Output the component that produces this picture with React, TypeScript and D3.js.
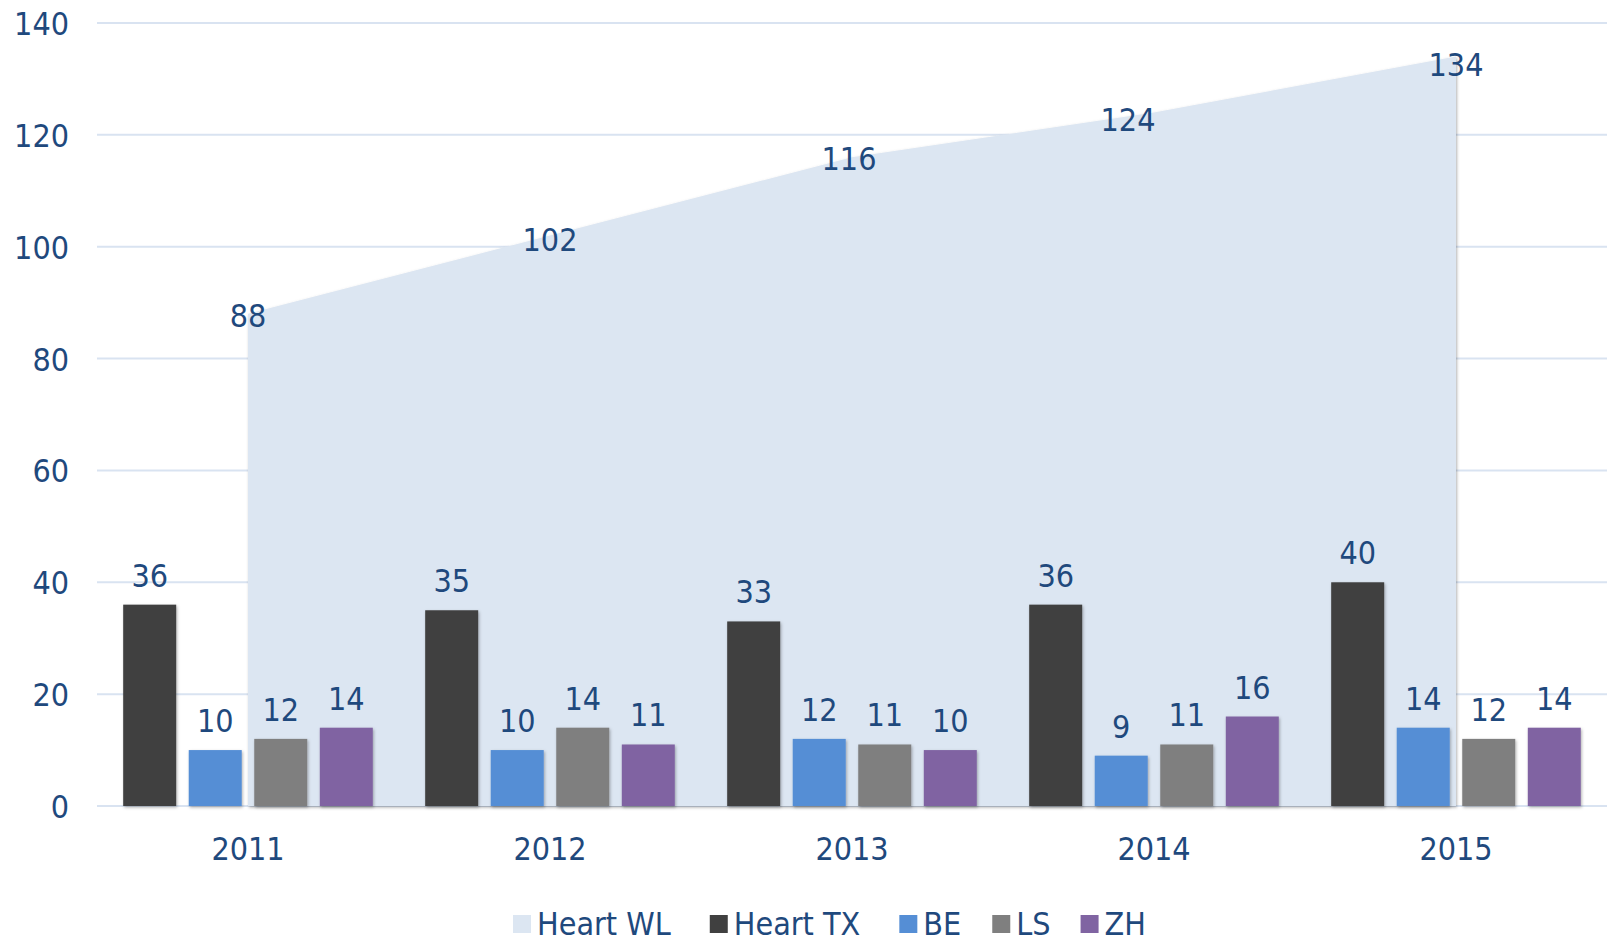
import React, { useEffect, useRef } from "react";
import * as d3 from "d3";

const years = ["2011", "2012", "2013", "2014", "2015"];
const heartWL = [88, 102, 116, 124, 134];
const heartTX = [36, 35, 33, 36, 40];
const BE = [10, 10, 12, 9, 14];
const LS = [12, 14, 11, 11, 12];
const ZH = [14, 11, 10, 16, 14];
const yTicks = [0, 20, 40, 60, 80, 100, 120, 140];

const barSeries = [
  { name: "Heart TX", values: heartTX, color: "#404040" },
  { name: "BE", values: BE, color: "#558ED5" },
  { name: "LS", values: LS, color: "#7F7F7F" },
  { name: "ZH", values: ZH, color: "#8064A2" },
];
const areaColor = "#DCE6F2";
const textColor = "#1F497D";
const gridColor = "#D9E3F1";
// label nudges (layout only) for Heart WL labels, as placed by the original
const wlNudge = [[0, 1], [0, 3], [-3, 1], [-26, 7], [0, 7]];
// gaps after each legend item (layout only)
const legendGaps = [39, 39, 31, 30, 0];

const FONT = "'DejaVu Sans Condensed', 'DejaVu Sans', sans-serif";
const FS = 32;

export default function App() {
  const ref = useRef<SVGSVGElement>(null);
  useEffect(() => {
    const svg = d3.select(ref.current);
    svg.selectAll("*").remove();
    const W = 1610, H = 944;
    const left = 97, right = 1607, top = 23, bottom = 806;
    const y = d3.scaleLinear().domain([0, 140]).range([bottom, top]);
    const x = d3.scaleBand().domain(years).range([left, right]).padding(0);
    const bw = x.bandwidth();
    const barW = bw * 0.1755;
    const step = bw * 0.217;

    const defs = svg.append("defs");
    const f = defs.append("filter").attr("id", "sh").attr("x", "-10%").attr("y", "-10%").attr("width", "130%").attr("height", "130%");
    f.append("feDropShadow").attr("dx", 1).attr("dy", 1.5).attr("stdDeviation", 1.5).attr("flood-color", "#000").attr("flood-opacity", 0.3);

    // gridlines
    svg.append("g").selectAll("line").data(yTicks).join("line")
      .attr("x1", left).attr("x2", right)
      .attr("y1", (d) => y(d)).attr("y2", (d) => y(d))
      .attr("stroke", gridColor).attr("stroke-width", 2);

    // y tick labels
    svg.append("g").selectAll("text").data(yTicks).join("text")
      .attr("x", 69).attr("y", (d) => y(d) + 12)
      .attr("text-anchor", "end")
      .attr("font-family", FONT).attr("font-size", FS).attr("fill", textColor)
      .text((d) => d);

    // area
    const cx = (d: string) => (x(d) as number) + bw / 2;
    const area = d3.area<number>()
      .x((_, i) => cx(years[i]))
      .y0(y(0)).y1((d) => y(d));
    svg.append("path").datum(heartWL).attr("d", area as any)
      .attr("fill", areaColor).attr("filter", "url(#sh)");

    // bars
    barSeries.forEach((s, si) => {
      svg.append("g").selectAll("rect").data(s.values).join("rect")
        .attr("x", (_, i) => cx(years[i]) + (si - 1.5) * step - barW / 2)
        .attr("width", barW)
        .attr("y", (d) => y(d))
        .attr("height", (d) => y(0) - y(d))
        .attr("fill", s.color)
        .attr("filter", "url(#sh)");
      svg.append("g").selectAll("text").data(s.values).join("text")
        .attr("x", (_, i) => cx(years[i]) + (si - 1.5) * step)
        .attr("y", (d) => y(d) - 18)
        .attr("text-anchor", "middle")
        .attr("font-family", FONT).attr("font-size", FS).attr("fill", textColor)
        .text((d) => d);
    });

    // area labels
    svg.append("g").selectAll("text").data(heartWL).join("text")
      .attr("x", (_, i) => cx(years[i]) + wlNudge[i][0])
      .attr("y", (d, i) => y(d) + 12 + wlNudge[i][1])
      .attr("text-anchor", "middle")
      .attr("font-family", FONT).attr("font-size", FS).attr("fill", textColor)
      .text((d) => d);

    // x labels
    svg.append("g").selectAll("text").data(years).join("text")
      .attr("x", (d) => cx(d)).attr("y", 860)
      .attr("text-anchor", "middle")
      .attr("font-family", FONT).attr("font-size", FS).attr("fill", textColor)
      .text((d) => d);

    // legend
    const legendItems = [{ name: "Heart WL", color: areaColor }, ...barSeries.map((s) => ({ name: s.name, color: s.color }))];
    let lx = 513;
    const lg = svg.append("g");
    legendItems.forEach((it, i) => {
      lg.append("rect").attr("x", lx).attr("y", 915).attr("width", 18).attr("height", 18).attr("fill", it.color);
      const t = lg.append("text").attr("x", lx + 24).attr("y", 935)
        .attr("font-family", FONT).attr("font-size", FS).attr("fill", textColor)
        .text(it.name);
      const w = (t.node() as SVGTextElement).getComputedTextLength();
      lx += 24 + w + legendGaps[i];
    });
    svg.attr("width", W).attr("height", H);
  }, []);
  return (
    <svg ref={ref} width={1610} height={944} style={{ position: "absolute", left: 0, top: 0, background: "#fff" }} />
  );
}
